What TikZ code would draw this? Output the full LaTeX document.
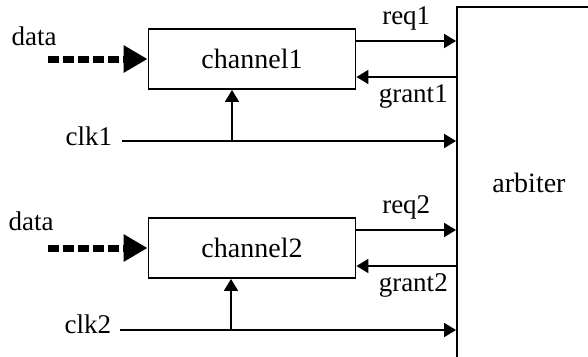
\documentclass[tikz,border=0pt]{standalone}
\usepackage{fontspec}
\setmainfont{Liberation Serif}
\usetikzlibrary{arrows.meta}
\begin{document}
\begin{tikzpicture}[x=1pt,y=-1pt,line width=1.9pt,
    block/.style={rectangle,draw,line width=1.9pt,inner sep=0pt,font=\fontsize{28}{32}\selectfont},
    lbl/.style={font=\fontsize{27}{32}\selectfont,inner sep=0pt},
    sig/.style={-{Triangle[length=12pt,width=14pt]}},
    data arrow/.style={line width=7pt,dash pattern=on 11pt off 4pt,-{Triangle[length=24pt,width=26pt]}}]
  \useasboundingbox (0,0) rectangle (588,356);
  \clip (0,0) rectangle (588,356);

  \node[block,minimum width=207pt,minimum height=60pt] at (252,59) (ch1) {channel1};
  \node[block,minimum width=207pt,minimum height=60pt] at (252,248) (ch2) {channel2};
  \node[block,minimum width=144pt,minimum height=352pt] at (529,183) (arb) {arbiter};

  % data inputs
  \node[lbl] at (34,36) (data1) {data};
  \node[lbl] at (31,221) (data2) {data};
  \coordinate (d1) at (48,59);
  \coordinate (d2) at (48,248);
  \draw[data arrow] (d1) -- (ch1.west);
  \draw[data arrow] (d2) -- (ch2.west);

  % request / grant
  \coordinate (r1) at ([yshift=18pt]ch1.east);
  \coordinate (g1) at ([yshift=-18pt]ch1.east);
  \coordinate (r2) at ([yshift=18pt]ch2.east);
  \coordinate (g2) at ([yshift=-18pt]ch2.east);
  \draw[sig] (r1) -- node[lbl,above=10pt] {req1} (r1 -| arb.west);
  \draw[sig] (g1 -| arb.west) -- node[lbl,below=7pt,xshift=7pt] {grant1} (g1);
  \draw[sig] (r2) -- node[lbl,above=10pt] {req2} (r2 -| arb.west);
  \draw[sig] (g2 -| arb.west) -- node[lbl,below=7pt,xshift=7pt] {grant2} (g2);

  % clocks
  \coordinate (c1) at (122,141);
  \coordinate (c2) at (120,330);
  \node[lbl,anchor=base east] at ([xshift=-9pt,yshift=-4pt]c1) (clk1) {clk1};
  \node[lbl,anchor=base east] at ([xshift=-8pt,yshift=-3pt]c2) (clk2) {clk2};
  \coordinate (t1) at ([xshift=-20pt]ch1.south);
  \coordinate (t2) at ([xshift=-21pt]ch2.south);
  \draw[sig] (c1) -- (c1 -| arb.west);
  \draw[sig] (c2) -- (c2 -| arb.west);
  \draw[sig] (t1 |- c1) -- (t1);
  \draw[sig] (t2 |- c2) -- (t2);
\end{tikzpicture}
\end{document}
